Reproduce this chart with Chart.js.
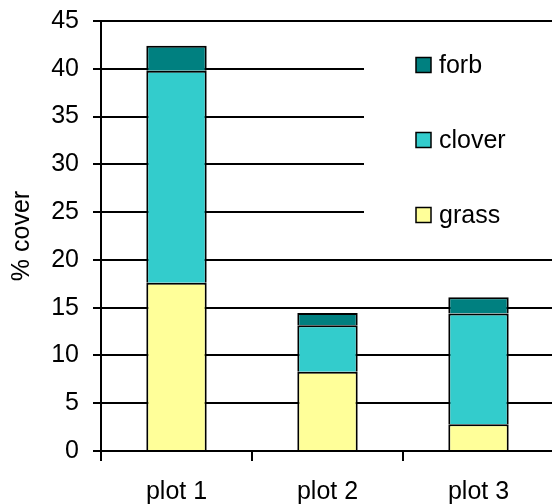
<!DOCTYPE html>
<html>
<head>
<meta charset="utf-8">
<script src="https://cdn.jsdelivr.net/npm/chart.js@4/dist/chart.umd.min.js"></script>
<style>
  html, body { margin: 0; padding: 0; background: #fff; overflow: hidden; }
  #wrap { width: 552px; height: 504px; overflow: hidden; }
  canvas { display: block; }
</style>
</head>
<body>
<div id="wrap"><canvas id="c" width="556" height="504"></canvas></div>
<script>
// Plot categories and per-group cover (%), stacked bottom to top
const plots = ['plot 1', 'plot 2', 'plot 3'];
const grass = [17.6, 8.3, 2.8];
const clover = [22.2, 4.85, 11.6];
const forb = [2.6, 1.3, 1.7];
const yTicks = [0, 5, 10, 15, 20, 25, 30, 35, 40, 45];

const FONT = "'Liberation Sans', Arial, sans-serif";

// Legend on an opaque white panel inside the plot area, top item = top of stack
const stackLegend = {
  id: 'stackLegend',
  afterDraw(chart, args, opts) {
    const ctx = chart.ctx;
    const items = chart.data.datasets.slice().reverse();
    ctx.save();
    ctx.fillStyle = '#fff';
    ctx.fillRect(opts.panel.x, opts.panel.y, opts.panel.w, opts.panel.h);
    ctx.font = `${opts.fontSize}px ${FONT}`;
    ctx.textBaseline = 'middle';
    ctx.textAlign = 'left';
    items.forEach((ds, i) => {
      const cy = opts.y + i * opts.gap;
      ctx.fillStyle = ds.backgroundColor;
      ctx.fillRect(opts.x, cy - opts.box / 2, opts.box, opts.box);
      ctx.lineWidth = 1.5;
      ctx.strokeStyle = '#000';
      ctx.strokeRect(opts.x, cy - opts.box / 2, opts.box, opts.box);
      ctx.fillStyle = '#000';
      ctx.fillText(ds.label, opts.x + opts.box + 8, cy + 1);
    });
    ctx.restore();
  }
};

// Each segment skips its bottom edge so shared boundaries stay a single line
const barStyle = { borderColor: '#000', borderWidth: 2, borderSkipped: 'start',
  barPercentage: 0.4, categoryPercentage: 1.0 };

new Chart(document.getElementById('c'), {
  type: 'bar',
  data: {
    labels: plots,
    datasets: [
      Object.assign({ label: 'grass', data: grass, backgroundColor: '#FFFF99' }, barStyle),
      Object.assign({ label: 'clover', data: clover, backgroundColor: '#33CCCC' }, barStyle),
      Object.assign({ label: 'forb', data: forb, backgroundColor: '#008080' }, barStyle)
    ]
  },
  plugins: [stackLegend],
  options: {
    responsive: false,
    animation: false,
    layout: { padding: { top: 21, right: 2, left: 0, bottom: 0 } },
    plugins: {
      legend: { display: false },
      tooltip: { enabled: false },
      stackLegend: { x: 416, y: 65, gap: 75, box: 15, fontSize: 25,
        panel: { x: 364, y: 36, w: 200, h: 204 } }
    },
    scales: {
      x: {
        stacked: true,
        afterFit(scale) { scale.height = 53; },
        grid: { drawOnChartArea: false, drawTicks: true, tickLength: 10, color: '#000', lineWidth: 2, offset: true },
        border: { display: true, color: '#000', width: 2 },
        ticks: { color: '#000', padding: 16, font: { family: FONT, size: 25 } }
      },
      y: {
        stacked: true,
        min: 0,
        max: 45,
        afterFit(scale) {
          scale.width = 101;
          scale.paddingTop = 0;
          scale.paddingBottom = 0;
        },
        afterBuildTicks(scale) { scale.ticks = yTicks.map(v => ({ value: v })); },
        grid: { color: '#000', lineWidth: 2, tickLength: 8 },
        border: { display: true, color: '#000', width: 2 },
        ticks: { color: '#000', padding: 14, font: { family: FONT, size: 25 } },
        title: { display: true, text: '% cover', color: '#000', padding: { top: 7, bottom: 0 },
          font: { family: FONT, size: 25 } }
      }
    }
  }
});
</script>
</body>
</html>
